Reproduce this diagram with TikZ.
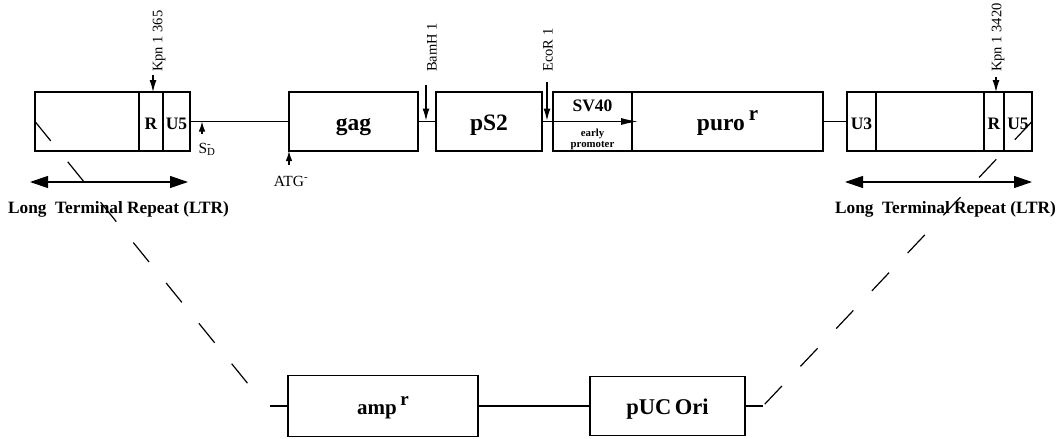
\documentclass[tikz,border=0pt]{standalone}
\usepackage{fontspec}
\setmainfont{Liberation Serif}
\usetikzlibrary{arrows.meta,positioning,calc}
\newcommand{\setfs}[1]{\fontsize{#1}{#1}\selectfont}
\tikzset{
  genebox/.style={rectangle, draw, line width=1.2pt, outer sep=0pt,
    minimum width=#1, minimum height=59pt, inner sep=0pt,
    text height=17pt, text depth=0pt, font=\setfs{23.5}\bfseries},
  segbox/.style={rectangle, draw, line width=1.2pt, outer sep=0pt,
    minimum width=#1, minimum height=59pt, inner sep=0pt,
    text height=15pt, text depth=0pt, font=\setfs{17.5}\bfseries},
  link/.style={line width=1.2pt},
  sitearrow/.style={-{Latex[length=12pt,width=7pt]}, line width=1.2pt},
  smallarrow/.style={-{Latex[length=10pt,width=6.5pt]}, line width=1.2pt},
  promarrow/.style={-{Latex[length=17pt,width=7pt]}, line width=1.2pt},
  sitelabel/.style={rotate=90, anchor=west, inner sep=0pt, font=\setfs{14.5}},
  smalllabel/.style={inner sep=0pt, font=\setfs{15.5}},
  ltrarrow/.style={{Triangle[length=18pt,width=12pt]}-{Triangle[length=18pt,width=12pt]},
    line width=1.2pt},
  ltrlabel/.style={anchor=base, inner sep=0pt, font=\setfs{17.3}\bfseries},
  dashline/.style={line width=1.2pt, dash pattern=on 25pt off 27pt},
}

\begin{document}
\begin{tikzpicture}[x=1pt, y=-1pt]
  \useasboundingbox (0,0) rectangle (1061,439);
  % left LTR
  \node[segbox=104pt] (ltrL) at (87,121.5) {};
  \node[segbox=24pt, right=0pt of ltrL] (rL) {R};
  \node[segbox=27pt, right=0pt of rL] (u5L) {U5};
  % vector body
  \node[genebox=129pt] (gag) at (353.5,121.5) {gag};
  \node[genebox=106pt] (ps2) at (489,121.5) {pS2};
  \node[genebox=79pt] (sv40) at (592.5,121.5) {};
  \node[genebox=191pt, right=0pt of sv40] (puro) {puro\,\raisebox{.42em}{\setfs{21}r}};
  \node[inner sep=0pt, font=\setfs{17.5}\bfseries, below=8pt of sv40.north] (sv40lab) {SV40};
  \node[inner sep=0pt, align=center, font=\fontsize{10.8}{11}\selectfont\bfseries,
    above=1.5pt of sv40.south] (earlylab) {early\\promoter};
  \draw[promarrow] (sv40.west) -- ([xshift=6]puro.west);
  % right LTR
  \node[segbox=29pt] (u3R) at (861.5,121.5) {U3};
  \node[segbox=108pt, right=0pt of u3R] (ltrR) {};
  \node[segbox=20pt, right=0pt of ltrR] (rR) {R};
  \node[segbox=28pt, right=0pt of rR] (u5R) {U5};
  \draw[link] (u5L.east) -- (gag.west);
  \draw[link] (gag) -- (ps2);
  \draw[link] (ps2) -- (sv40);
  \draw[link] (puro) -- (u3R);
  % restriction sites
  \coordinate (kpnL) at (153,75);
  \draw[sitearrow] (kpnL) -- (kpnL |- rL.north);
  \node[sitelabel] (kpnLlab) at (159,72) {Kpn 1 365};
  \coordinate (bamh) at (426,85);
  \draw[sitearrow, shorten >=1pt] (bamh) -- (bamh |- gag.center);
  \node[sitelabel] (bamhlab) at (432,72) {BamH 1};
  \coordinate (ecor) at (547,82);
  \draw[sitearrow, shorten >=1pt] (ecor) -- (ecor |- ps2.center);
  \node[sitelabel] (ecorlab) at (548,72) {EcoR 1};
  \coordinate (kpnR) at (996,77);
  \draw[sitearrow] (kpnR) -- (kpnR |- rR.north);
  \node[sitelabel] (kpnRlab) at (998,72) {Kpn 1 3420};
  % splice donor and start codon
  \coordinate (sd) at (202,134);
  \draw[smallarrow] (sd) -- (sd |- u5L.east);
  \node[smalllabel] (sdlab) at (207,149) {S\rlap{\textsuperscript{-}}\textsubscript{D}};
  \coordinate (atg) at (289,165);
  \draw[smallarrow] (atg) -- (gag.south west);
  \node[smalllabel] (atglab) at (291,181) {ATG\textsuperscript{-}};
  % LTR spans
  \draw[ltrarrow] ([shift={(-5,31)}]ltrL.south west) -- ([shift={(-2,31)}]u5L.south east);
  \draw[ltrarrow] ([shift={(-2,31)}]u3R.south west) -- ([shift={(0,31)}]u5R.south east);
  \node[ltrlabel] (ltrLlab) at (118.5,213) {Long\ \ Terminal Repeat (LTR)};
  \node[ltrlabel] (ltrRlab) at (945.5,213) {Long\ \ Terminal Repeat (LTR)};
  % plasmid backbone
  \node[genebox=190pt, minimum height=61pt, font=\setfs{21}\bfseries] (amp) at (383,406) {amp\,\raisebox{.42em}{\setfs{19}r}};
  \node[genebox=155pt, font=\setfs{22.5}\bfseries] (puc) at (667.5,406) {pUC\,Ori};
  \draw[link] (amp) -- (puc);
  \coordinate (bendL) at (266,406);
  \coordinate (stubL) at (270,406);
  \coordinate (bendR) at (763,406);
  \draw[dashline, shorten >=5pt] (ltrL.west) -- (bendL);
  \draw[link] (stubL) -- (amp.west);
  \draw[dashline] (u5R.east) -- (bendR);
  \draw[link] (bendR) -- (puc.east);
\end{tikzpicture}
\end{document}
